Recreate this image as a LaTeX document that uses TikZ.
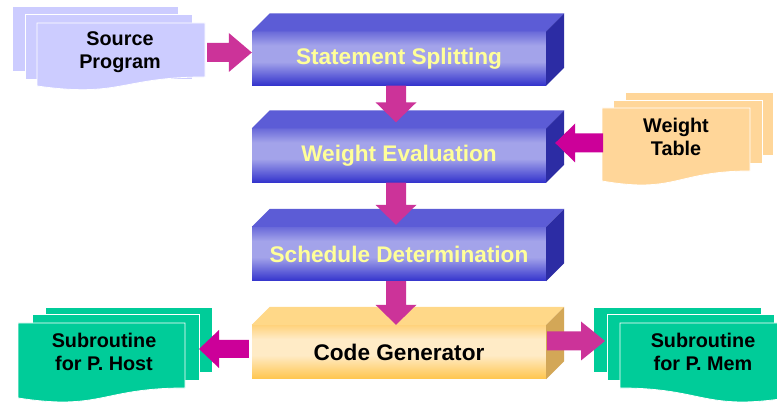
\documentclass[tikz,border=0pt]{standalone}
\usepackage{fontspec}
\setmainfont{Liberation Sans}
\usetikzlibrary{calc}

\definecolor{bTop}{HTML}{5C5CD6}
\definecolor{bSide}{HTML}{2C2CA4}
\definecolor{bfT}{HTML}{6A6AD9}
\definecolor{bfM}{HTML}{A3A3EA}
\definecolor{bfB}{HTML}{3333CC}
\definecolor{yTop}{HTML}{FFD888}
\definecolor{ySide}{HTML}{D3A757}
\definecolor{yfT}{HTML}{FFD27C}
\definecolor{yfM}{HTML}{FFEBC6}
\definecolor{yfB}{HTML}{FFC54C}
\definecolor{txtY}{HTML}{FFFF99}
\definecolor{docBlue}{HTML}{CCCCFF}
\definecolor{docOrange}{HTML}{FFD699}
\definecolor{docGreen}{HTML}{00CC99}
\definecolor{arrA}{HTML}{CC3399}
\definecolor{arrB}{HTML}{CC0099}

\pgfdeclareverticalshading{bluefront}{100bp}{color(0bp)=(bfB); color(25bp)=(bfB); color(47bp)=(bfM); color(62bp)=(bfM); color(75bp)=(bfT); color(100bp)=(bfT)}
\pgfdeclareverticalshading{yellowfront}{100bp}{color(0bp)=(yfB); color(25bp)=(yfB); color(47bp)=(yfM); color(62bp)=(yfM); color(75bp)=(yfT); color(100bp)=(yfT)}

% side and top faces of a 3D box (node name, top colour, side colour)
\newcommand\cubefaces[3]{%
  \fill[#2] (#1.north west) -- ([shift={(18,-18)}]#1.north west) -- ([shift={(18,-18)}]#1.north east) -- (#1.north east) -- cycle;
  \fill[#3] (#1.north east) -- ([shift={(18,-18)}]#1.north east) -- ([shift={(18,-18)}]#1.south east) -- (#1.south east) -- cycle;}

% document sheet: colour, x1, y1, x2, yLeft, yRight, ctrl1 y, ctrl2 y
\newcommand\docsheet[8]{%
  \filldraw[fill=#1, draw=white, line width=0.8pt] (#2,#3) -- (#4,#3) -- (#4,#6) .. controls ({(#2+#4)/2},#7) and ({(#2+#4)/2},#8) .. (#2,#5) -- cycle;}
\newcommand\backsheet[5]{%
  \filldraw[fill=#1, draw=white, line width=0.8pt] (#2,#3) rectangle (#4,#5);}

% block arrows: colour, from, to, shaft half, head half, head length
\newcommand\harrow[6]{%
  \fill[#1] let \p1=(#2), \p2=(#3), \n1={sign(\x2-\x1)} in
  (\x1,\y2+#4) -- (\x2-\n1*#6,\y2+#4) -- (\x2-\n1*#6,\y2+#5) -- (\x2,\y2) --
  (\x2-\n1*#6,\y2-#5) -- (\x2-\n1*#6,\y2-#4) -- (\x1,\y2-#4) -- cycle;}
\newcommand\varrow[6]{%
  \fill[#1] let \p1=(#2), \p2=(#3), \n1={sign(\y2-\y1)} in
  (\x2-#4,\y1) -- (\x2-#4,\y2-\n1*#6) -- (\x2-#5,\y2-\n1*#6) -- (\x2,\y2) --
  (\x2+#5,\y2-\n1*#6) -- (\x2+#4,\y2-\n1*#6) -- (\x2+#4,\y1) -- cycle;}

\tikzset{
  boxbase/.style={minimum width=294pt, minimum height=54pt, inner sep=0pt,
    font=\fontsize{22.6}{26}\selectfont\bfseries},
  bluebox/.style={boxbase, shading=bluefront, text=txtY},
  yellowbox/.style={boxbase, shading=yellowfront, text=black},
  doctext/.style={align=center, inner sep=0pt, text=black,
    font=\fontsize{19.8}{23}\selectfont\bfseries},
}

\begin{document}
\begin{tikzpicture}[x=1pt, y=-1pt]
\useasboundingbox (0,0) rectangle (777,403);
\fill[white] (0,0) rectangle (777,403);

% ---------- documents ----------
% Source Program
\backsheet{docBlue}{12}{6}{178}{71}
\backsheet{docBlue}{25}{14}{192}{79}
\docsheet{docBlue}{37}{23}{205}{86}{77}{77}{98}
\node[doctext] (src) at (120,52) {Source\\Program};

% Weight Table
\backsheet{docOrange}{625}{92}{773}{155}
\backsheet{docOrange}{613}{100}{762}{163}
\docsheet{docOrange}{602}{108}{750}{181}{171}{171}{194}
\node[doctext] (wt) at (676,137) {Weight\\Table};

% Subroutine for P. Host
\backsheet{docGreen}{45}{307}{212}{372}
\backsheet{docGreen}{32}{314}{199}{380}
\docsheet{docGreen}{18}{323}{185}{398}{388}{388}{411}
\node[doctext] (host) at (104,352) {Subroutine\\for P. Host};

% Subroutine for P. Mem (mirrored)
\backsheet{docGreen}{593}{307}{761}{372}
\backsheet{docGreen}{607}{314}{774}{380}
\docsheet{docGreen}{620}{323}{787}{388}{398}{411}{388}
\node[doctext] (mem) at (703,352) {Subroutine\\for P. Mem};

% ---------- 3D boxes ----------
\node[bluebox] (b1) at (399,58.5) {Statement Splitting};
\cubefaces{b1}{bTop}{bSide}
\node[bluebox] (b2) at (399,155.5) {Weight Evaluation};
\cubefaces{b2}{bTop}{bSide}
\node[bluebox] (b3) at (399,254) {Schedule Determination};
\cubefaces{b3}{bTop}{bSide}
\node[yellowbox] (b4) at (399,352) {Code Generator};
\cubefaces{b4}{yTop}{ySide}

% ---------- connectors ----------
\coordinate (srcR) at (207,52.5);
\coordinate (wtL) at (603,143);
\coordinate (hostR) at (199,349);
\coordinate (memL) at (605,341);

\varrow{arrA}{[xshift=-3pt]b1.south}{[xshift=-3pt,yshift=6pt]b2.north}{10pt}{20.5pt}{20pt}
\varrow{arrA}{[xshift=-3pt]b2.south}{[xshift=-3pt,yshift=2pt]b3.north}{10pt}{20.5pt}{20pt}
\varrow{arrA}{[xshift=-3pt]b3.south}{[xshift=-3pt]b4.north}{10pt}{20.5pt}{20pt}

\harrow{arrA}{srcR}{[yshift=6pt]b1.west}{9.5pt}{19.5pt}{23pt}
\harrow{arrB}{wtL}{[xshift=9pt,yshift=12.5pt]b2.east}{9.5pt}{19.5pt}{20pt}
\harrow{arrB}{[xshift=-3pt,yshift=3pt]b4.west}{hostR}{9pt}{19pt}{20pt}
\harrow{arrA}{[xshift=1pt,yshift=11pt]b4.east}{memL}{9.5pt}{19.5pt}{24pt}
\end{tikzpicture}
\end{document}
